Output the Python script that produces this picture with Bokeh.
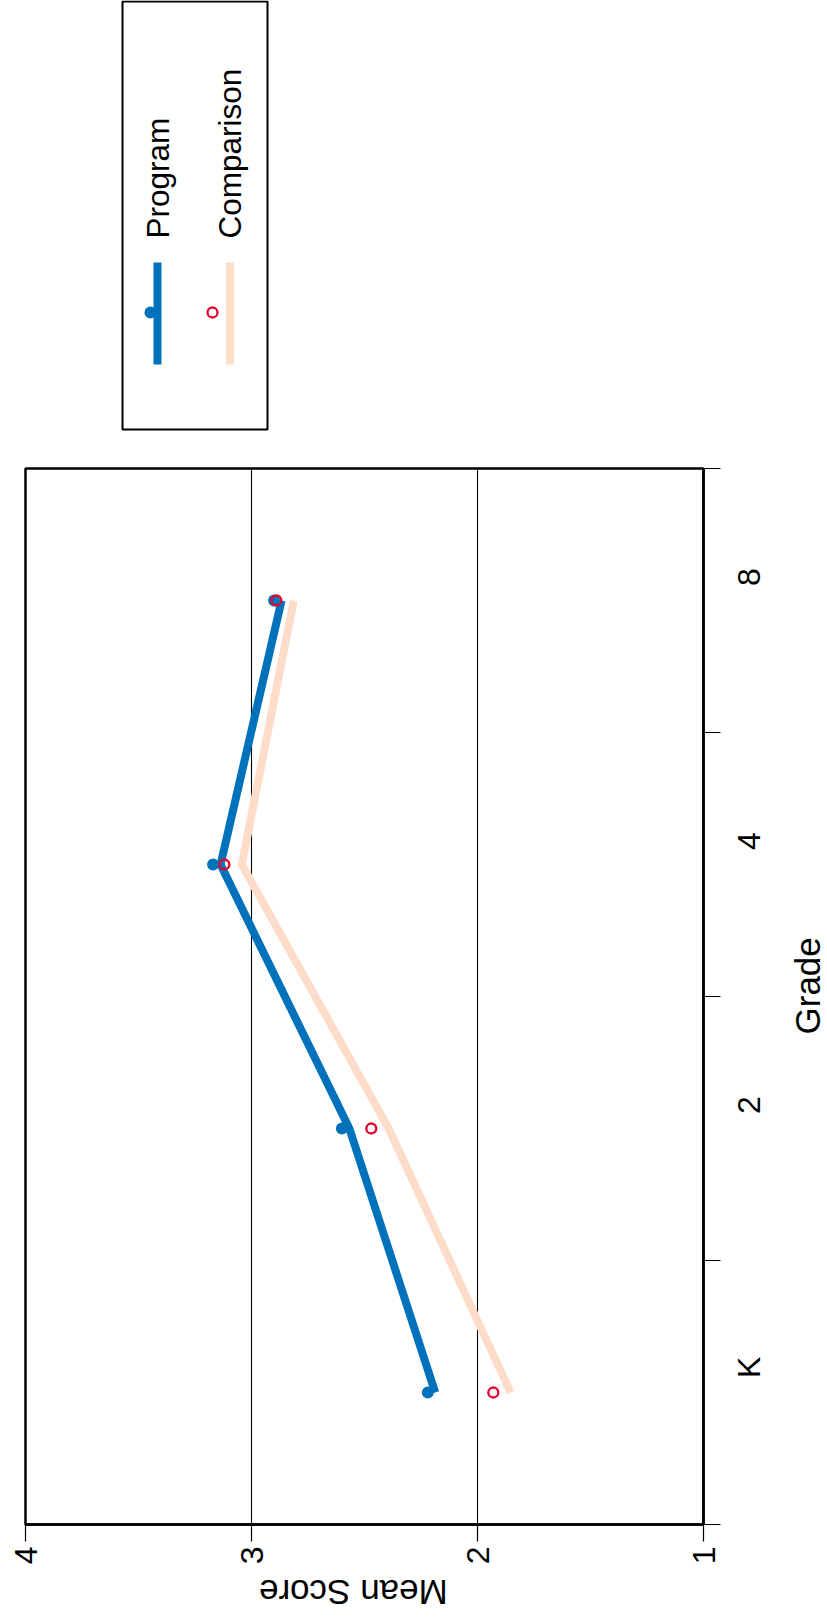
import math
from bokeh.plotting import figure
from bokeh.models import Range1d, FixedTicker, ColumnDataSource, LinearAxis
from bokeh.layouts import column
from bokeh.embed import file_html
from bokeh.resources import INLINE
from bokeh.core.properties import value

# ---------------- data ----------------
grades = ["K", "2", "4", "8"]
program = [2.22, 2.60, 3.17, 2.90]
comparison = [1.93, 2.47, 3.12, 2.89]
score_ticks = [1, 2, 3, 4]
legend_labels = ["Program", "Comparison"]
x_title = "Mean Score"
y_title = "Grade"

# ---------------- style ----------------
BLUE = "#0072BC"
PEACH = "#FDDDCA"
RED = "#E2062C"
FONT = "Liberation Sans"
FW, FH = 678, 1056          # plot frame size
BL, BR = 25, 124            # side borders (same for both figures)
LEG_H = 458
FRAME_L, FRAME_B = 25, 1524  # page position of frame left / bottom

n = len(grades)
ypos = [i + 0.5 for i in range(n)]
label_shift = 0.0546875
src = ColumnDataSource(dict(grade=grades, y=ypos, program=program, comparison=comparison))

smax, smin = max(score_ticks), min(score_ticks)
p = figure(frame_width=FW, frame_height=FH,
           x_range=Range1d(smax, smin), y_range=Range1d(0, n),
           y_axis_location="right",
           output_backend="svg", toolbar_location=None,
           min_border_left=BL, min_border_top=10,
           min_border_right=BR, min_border_bottom=97)
p.extra_x_ranges = {
    "prog_line": Range1d(smax + 0.033, smin + 0.033),
    "comp_line": Range1d(smax + 0.077, smin + 0.077),
    "px": Range1d(0, FW),
}
p.extra_y_ranges = {"py": Range1d(0, FH)}

p.line(x="comparison", y="y", source=src, x_range_name="comp_line",
       line_color=PEACH, line_width=8, line_join="miter")
p.line(x="program", y="y", source=src, x_range_name="prog_line",
       line_color=BLUE, line_width=8, line_join="miter")
p.scatter(x="program", y="y", source=src, marker="circle", size=12,
          fill_color=BLUE, line_color=None)
p.scatter(x="comparison", y="y", source=src, marker="circle", size=10,
          fill_color=None, line_color=RED, line_width=2.3)

p.outline_line_color = "black"
p.outline_line_width = 2.5
p.ygrid.visible = False
p.xgrid.ticker = FixedTicker(ticks=score_ticks)
p.xgrid.grid_line_color = "black"
p.xgrid.grid_line_width = 1.1

xa = p.xaxis[0]
xa.ticker = FixedTicker(ticks=score_ticks)
xa.major_label_orientation = math.pi / 2
xa.major_tick_out = 17
xa.major_tick_in = 0
xa.major_tick_line_width = 1.2
xa.major_tick_line_color = "black"
xa.major_label_standoff = 5
xa.major_label_text_font = FONT
xa.major_label_text_font_size = "32px"
xa.major_label_text_color = "black"
xa.axis_line_width = 2.5
xa.axis_line_color = "black"

ya = p.yaxis[0]
ya.ticker = FixedTicker(ticks=[y + label_shift for y in ypos],
                        minor_ticks=list(range(n + 1)))
ya.major_label_overrides = {y + label_shift: g for y, g in zip(ypos, grades)}
ya.major_tick_out = 0
ya.major_tick_in = 0
ya.major_tick_line_color = None
ya.minor_tick_out = 17
ya.minor_tick_in = 0
ya.minor_tick_line_color = "black"
ya.minor_tick_line_width = 1.2
ya.major_label_orientation = math.pi / 2
ya.major_label_standoff = 28
ya.major_label_text_font = FONT
ya.major_label_text_font_size = "32px"
ya.major_label_text_color = "black"
ya.axis_line_width = 2.5
ya.axis_line_color = "black"

# axis titles as outer title axes (frame-pixel positions)
def title_axis(rng_kw, pos, text, angle, standoff):
    ax = LinearAxis(ticker=FixedTicker(ticks=[pos]), **rng_kw)
    ax.major_label_overrides = {pos: text}
    ax.major_label_orientation = angle
    ax.major_label_standoff = standoff
    ax.major_label_text_font = FONT
    ax.major_label_text_font_size = "35px"
    ax.major_label_text_color = "black"
    ax.axis_line_color = None
    ax.major_tick_line_color = None
    ax.minor_tick_line_color = None
    ax.major_tick_out = 0
    ax.major_tick_in = 0
    return ax

p.add_layout(title_axis(dict(x_range_name="px"), 233.5, x_title, math.pi, 25), "below")
p.add_layout(title_axis(dict(y_range_name="py"), 490, y_title, math.pi / 2, 20), "right")

# ---------------- legend (same horizontal frame as the plot) ----------------
leg = figure(frame_width=FW, frame_height=LEG_H,
             x_range=Range1d(0, FW), y_range=Range1d(0, LEG_H),
             x_axis_location=None, y_axis_location=None,
             output_backend="svg", toolbar_location=None,
             min_border_left=BL, min_border_right=BR,
             min_border_top=0, min_border_bottom=0)
leg.grid.visible = False
leg.outline_line_color = None

def fx(px):
    return px - FRAME_L

def fy(py):
    return LEG_H - py

leg.quad(left=[fx(122)], right=[fx(267)], top=[fy(1)], bottom=[fy(429)],
         fill_color=None, line_color="black", line_width=2)
row_x = [157, 229.5]
mark_x = [150, 212]
line_cols = [BLUE, PEACH]
for i, name in enumerate(legend_labels):
    leg.segment(x0=[fx(row_x[i])], y0=[fy(262)], x1=[fx(row_x[i])], y1=[fy(364)],
                line_color=line_cols[i], line_width=8)
    leg.text(x=[fx(row_x[i])], y=[fy(238)], text=[name], angle=math.pi / 2,
             text_align="left", text_baseline="middle",
             text_font=value(FONT), text_font_size="31.5px", text_color="black")
leg.scatter(x=[fx(mark_x[0])], y=[fy(312)], marker="circle", size=12,
            fill_color=BLUE, line_color=None)
leg.scatter(x=[fx(mark_x[1])], y=[fy(312)], marker="circle", size=10,
            fill_color=None, line_color=RED, line_width=2.3)

layout = column(leg, p, spacing=0)
open("out.html", "w").write(file_html(layout, INLINE))
